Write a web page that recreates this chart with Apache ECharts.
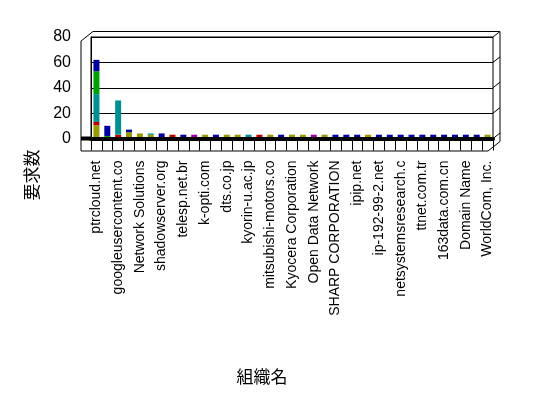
<!DOCTYPE html>
<html>
<head>
<meta charset="utf-8">
<script src="https://cdn.jsdelivr.net/npm/echarts@6/dist/echarts.min.js"></script>
<style>
html, body { margin: 0; padding: 0; background: #fff; }
#main { width: 548px; height: 398px; }
</style>
</head>
<body>
<div id="main"></div>
<script>
// labels shown on every other category
var shownLabels = ['ptrcloud.net', 'googleusercontent.co', 'Network Solutions', 'shadowserver.org',
    'telesp.net.br', 'k-opti.com', 'dts.co.jp', 'kyorin-u.ac.jp', 'mitsubishi-motors.co',
    'Kyocera Corporation', 'Open Data Network', 'SHARP CORPORATION', 'ipip.net', 'ip-192-99-2.net',
    'netsystemsresearch.c', 'ttnet.com.tr', '163data.com.cn', 'Domain Name', 'WorldCom, Inc.'];
var categoryCount = 37;

var oliveData  = [10.5, 0, 0, 5, 4, 3, 0, 0, 0, 0, 3, 0, 3, 3, 0, 0, 3, 0, 3, 3, 0, 3, 0, 0, 0, 3, 0, 0, 0, 0, 0, 0, 0, 0, 0, 0, 3];
var redData    = [2.5, 0, 3, 0, 0, 0, 0, 3, 0, 0, 0, 0, 0, 0, 0, 3, 0, 0, 0, 0, 0, 0, 0, 0, 0, 0, 0, 0, 0, 0, 0, 0, 0, 0, 0, 0, 0];
var tealData   = [22, 0, 27, 0, 0, 1, 0, 0, 0, 0, 0, 0, 0, 0, 3, 0, 0, 0, 0, 0, 0, 0, 0, 0, 0, 0, 0, 0, 0, 0, 0, 0, 0, 0, 0, 0, 0];
var greenData  = [18, 2, 0, 0, 0, 0, 0, 0, 0, 0, 0, 0, 0, 0, 0, 0, 0, 0, 0, 0, 0, 0, 0, 0, 0, 0, 0, 0, 0, 0, 0, 0, 0, 0, 0, 0, 0];
var navyData   = [9, 8, 0, 2, 0, 0, 4, 0, 3, 0, 0, 3, 0, 0, 0, 0, 0, 3, 0, 0, 0, 0, 3, 3, 3, 0, 3, 3, 3, 3, 3, 3, 3, 3, 3, 3, 0];
var purpleData = [0, 0, 0, 0, 0, 0, 0, 0, 0, 3, 0, 0, 0, 0, 0, 0, 0, 0, 0, 0, 3, 0, 0, 0, 0, 0, 0, 0, 0, 0, 0, 0, 0, 0, 0, 0, 0];
var yTicks = [0, 20, 40, 60, 80];

var categories = [];
for (var i = 0; i < categoryCount; i++) {
    categories.push(i % 2 == 0 ? shownLabels[i / 2] : '');
}

// plot box (back wall) and 3d frame offsets
var GL = 91, GR = 493, GT = 37, GB = 138.5;
var DX = 7, DY = -5.5, FRONT_X = 81, FLOOR_Y = 151;

var chart = echarts.init(document.getElementById('main'));

function makeSeries(name, data, color) {
    return {
        name: name,
        type: 'bar',
        stack: 'total',
        barWidth: 6,
        data: data,
        itemStyle: { color: color }
    };
}

function yPix(v) {
    return GB - (GB - GT) * v / yTicks[yTicks.length - 1];
}

var frame = [];
var black = { stroke: '#000', lineWidth: 1, fill: null };
// top face of back wall
frame.push({ type: 'polyline', shape: { points: [[FRONT_X, GT + 4], [GL + 2, GT + DY], [GR + DX, GT + DY], [GR + DX, GB + 3], [GR - 5, FLOOR_Y]] }, style: black });
frame.push({ type: 'line', shape: { x1: GR, y1: GT, x2: GR + DX, y2: GT + DY }, style: black });
// right side diagonals at gridlines
for (var k = 0; k < yTicks.length - 1; k++) {
    var yy = yPix(yTicks[k]);
    frame.push({ type: 'line', shape: { x1: GR, y1: yy, x2: GR + DX, y2: yy + DY }, style: black });
}
// left wall front edge and floor front
frame.push({ type: 'line', shape: { x1: FRONT_X, y1: GT + 4, x2: FRONT_X, y2: FLOOR_Y }, style: black });
frame.push({ type: 'line', shape: { x1: FRONT_X, y1: FLOOR_Y, x2: GR - 5, y2: FLOOR_Y }, style: black });
frame.push({ type: 'rect', shape: { x: FRONT_X, y: GB - 2, width: GL - FRONT_X, height: 4 }, style: { fill: '#000' } });

frame.push({
    type: 'text', x: 32, y: 175, rotation: Math.PI / 2,
    style: { text: '要求数', font: '17px "Noto Sans CJK JP"', fill: '#000', align: 'center', verticalAlign: 'middle' }
});
frame.push({
    type: 'text', x: 262, y: 377,
    style: { text: '組織名', font: '17px "Noto Sans CJK JP"', fill: '#000', align: 'center', verticalAlign: 'middle' }
});

var option = {
    animation: false,
    backgroundColor: '#fff',
    textStyle: { fontFamily: 'Liberation Sans' },
    grid: {
        left: GL, right: 548 - GR, top: GT, bottom: 398 - GB,
        show: true, borderColor: '#000', borderWidth: 1
    },
    xAxis: {
        type: 'category',
        data: categories,
        z: 5,
        axisLine: { show: true, lineStyle: { color: '#000', width: 4 } },
        axisTick: { show: true, interval: 0, length: 12, lineStyle: { color: '#000' } },
        axisLabel: { rotate: 90, interval: 1, margin: 22, fontSize: 14, color: '#000' },
        splitLine: { show: false }
    },
    yAxis: {
        type: 'value',
        min: 0,
        max: 80,
        interval: 20,
        axisLine: { show: true, lineStyle: { color: '#000' } },
        axisTick: { show: false },
        axisLabel: { fontSize: 16, color: '#000', margin: 20, padding: [6, 0, 0, 0] },
        splitLine: { show: true, lineStyle: { color: '#000', width: 1 } }
    },
    series: [
        makeSeries('olive', oliveData, '#9a9a00'),
        makeSeries('red', redData, '#c00000'),
        makeSeries('teal', tealData, '#009090'),
        makeSeries('green', greenData, '#00a000'),
        makeSeries('navy', navyData, '#0000a0'),
        makeSeries('purple', purpleData, '#a000a0')
    ],
    graphic: frame
};
chart.setOption(option);
</script>
</body>
</html>
